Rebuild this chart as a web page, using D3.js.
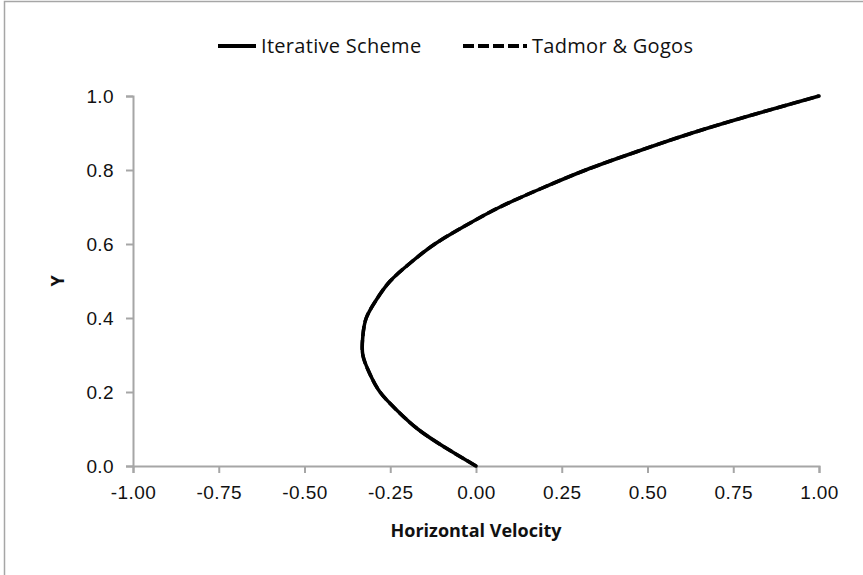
<!DOCTYPE html>
<html>
<head>
<meta charset="utf-8">
<script src="https://cdn.jsdelivr.net/npm/d3@7"></script>
<style>
  body { margin: 0; background: #fff; }
  svg { display: block; font-family: "Open Sans", sans-serif; }
  .tick text { font-size: 19px; fill: #111; letter-spacing: 0.4px; }
  .domain, .tick line { stroke: #a6a6a6; stroke-width: 2px; }
</style>
</head>
<body>
<div id="chart"></div>
<script>
// values
const yValues = [0, 0.05, 0.10, 0.15, 0.20, 0.25, 0.30, 0.35, 0.40, 0.45, 0.50,
                 0.55, 0.60, 0.65, 0.70, 0.75, 0.80, 0.85, 0.90, 0.95, 1.00];
const iterativeU = [0, -0.09, -0.17, -0.23, -0.28, -0.31, -0.33, -0.33, -0.32, -0.29, -0.25,
                    -0.19, -0.12, -0.03, 0.07, 0.19, 0.32, 0.47, 0.63, 0.81, 1.00];
const tadmorU = [0, -0.09, -0.17, -0.23, -0.28, -0.31, -0.33, -0.33, -0.32, -0.29, -0.25,
                 -0.19, -0.12, -0.03, 0.07, 0.19, 0.32, 0.47, 0.63, 0.81, 1.00];
const xTicks = [-1, -0.75, -0.5, -0.25, 0, 0.25, 0.5, 0.75, 1];
const yTicks = [0, 0.2, 0.4, 0.6, 0.8, 1.0];
const seriesNames = ['Iterative Scheme', 'Tadmor & Gogos'];

const width = 863, height = 575;
const margin = {top: 96, right: 44, bottom: 109, left: 133};

const svg = d3.select('#chart').append('svg')
    .attr('width', width)
    .attr('height', height);

// outer chart border
svg.append('rect')
    .attr('x', 4.5).attr('y', 1.5)
    .attr('width', 900).attr('height', 600)
    .attr('fill', 'none')
    .attr('stroke', '#a6a6a6')
    .attr('stroke-width', 1.5);

const xScale = d3.scaleLinear().domain([-1, 1]).range([margin.left, width - margin.right]);
const yScale = d3.scaleLinear().domain([0, 1]).range([height - margin.bottom, margin.top]);

// X axis
svg.append('g')
    .attr('transform', 'translate(0,' + yScale(0) + ')')
    .call(d3.axisBottom(xScale).tickValues(xTicks).tickSize(7).tickPadding(13)
        .tickFormat(d => d3.format('.2f')(d).replace('−', '-')));

// Y axis
svg.append('g')
    .attr('transform', 'translate(' + xScale(-1) + ',0)')
    .call(d3.axisLeft(yScale).tickValues(yTicks).tickFormat(d3.format('.1f')).tickSize(7).tickPadding(12));

svg.append('text')
    .attr('x', xScale(0))
    .attr('y', 537)
    .attr('text-anchor', 'middle')
    .style('font-size', '18px')
    .style('font-weight', 'bold')
    .style('fill', '#111')
    .text('Horizontal Velocity');

svg.append('text')
    .attr('transform', 'translate(64,' + yScale(0.5) + ') rotate(-90)')
    .attr('text-anchor', 'middle')
    .style('font-size', '18px')
    .style('font-weight', 'bold')
    .style('fill', '#111')
    .text('Y');

const line = d3.line()
    .x(d => xScale(d[0]))
    .y(d => yScale(d[1]))
    .curve(d3.curveNatural);

// dashed series sits underneath the solid one
svg.append('path')
    .datum(tadmorU.map((u, i) => [u, yValues[i]]))
    .attr('d', line)
    .attr('fill', 'none')
    .attr('stroke', '#000')
    .attr('stroke-width', 3.5)
    .attr('stroke-dasharray', '10,4');

svg.append('path')
    .datum(iterativeU.map((u, i) => [u, yValues[i]]))
    .attr('d', line)
    .attr('fill', 'none')
    .attr('stroke', '#000')
    .attr('stroke-width', 3.5)
    .attr('stroke-linecap', 'round');

// legend
const legend = svg.append('g');
const legendItems = [
    {name: seriesNames[0], x0: 218, x1: 256, dash: null},
    {name: seriesNames[1], x0: 463, x1: 527, dash: '11,4'}
];
legendItems.forEach(item => {
    legend.append('line')
        .attr('x1', item.x0).attr('x2', item.x1)
        .attr('y1', 46).attr('y2', 46)
        .attr('stroke', '#000')
        .attr('stroke-width', 4)
        .attr('stroke-dasharray', item.dash);
    legend.append('text')
        .attr('x', item.x1 + 5)
        .attr('y', 53)
        .style('font-size', '20px')
        .style('letter-spacing', '0.3px')
        .style('fill', '#111')
        .text(item.name);
});
</script>
</body>
</html>
